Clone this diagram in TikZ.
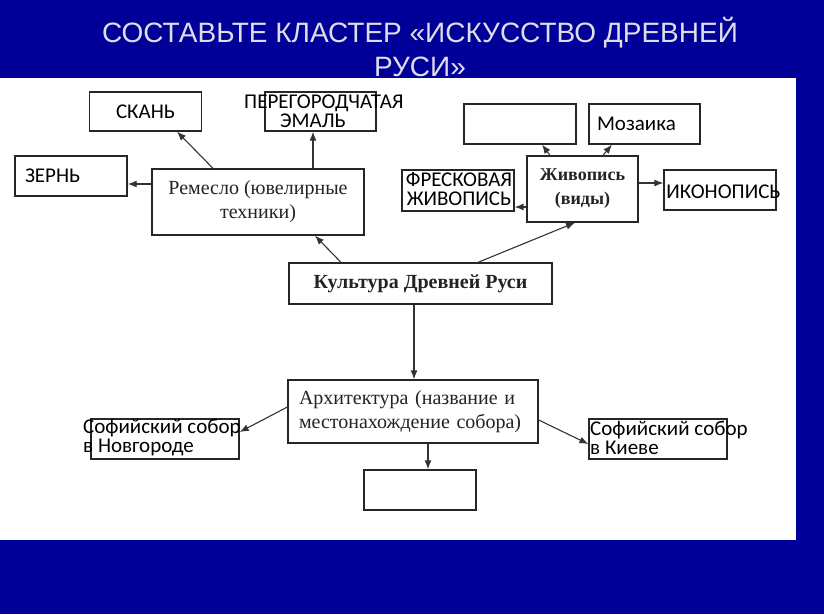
\documentclass[tikz,border=0pt]{standalone}
\usepackage{fontspec}
\setmainfont{Liberation Serif}
\newfontfamily\calibri{Carlito}
\newfontfamily\arialf{Liberation Sans}
\usepackage{tikz}
\usetikzlibrary{arrows.meta,positioning}
\definecolor{slideblue}{RGB}{0,0,153}
\definecolor{titlegray}{RGB}{222,222,235}
\definecolor{ink}{RGB}{35,35,35}

\begin{document}
\begin{tikzpicture}[x=1pt,y=-1pt,
  box/.style={draw=black!85,line width=1.3pt,fill=white,inner sep=0pt},
  plain/.style={font=\calibri\fontsize{21}{19}\selectfont,inner sep=0pt},
  serif/.style={text=ink,font=\fontsize{20}{24}\selectfont},
  heavy/.style={text=ink,font=\bfseries\fontsize{20}{24}\selectfont},
  to/.style={-{Latex[length=9pt,width=7pt]},line width=1.1pt,black!80}]

    \fill[slideblue] (0,0) rectangle (824,614);
    \fill[white] (0,78) rectangle (796,540);
    \useasboundingbox (0,0) rectangle (824,614);

    \node[text=titlegray,font=\arialf\fontsize{28}{34}\selectfont,align=center]
        (title) at (420,47) {СОСТАВЬТЕ КЛАСТЕР «ИСКУССТВО ДРЕВНЕЙ\\РУСИ»};

    % boxes
    \node[box,plain,minimum width=112pt,minimum height=39pt] (skan) at (145.5,111.5) {СКАНЬ};
    \node[box,minimum width=111pt,minimum height=39pt] (emal) at (320.5,111.5) {};
    \node[box,plain,align=left,text width=92pt,inner xsep=10pt,minimum height=40pt] (zern) at (71,176) {ЗЕРНЬ};
    \node[box,serif,align=center,minimum width=212pt,minimum height=66pt] (remeslo) at (258,202) {Ремесло (ювелирные\\техники)};
    \node[box,minimum width=112pt,minimum height=40pt] (empty1) at (520,124) {};
    \node[box,plain,align=left,text width=95pt,inner xsep=8pt,minimum height=40pt] (mozaika) at (644.5,124) {Мозаика};
    \node[box,minimum width=112pt,minimum height=41pt] (freska) at (458,190.5) {};
    \node[box,heavy,font=\bfseries\fontsize{18}{24}\selectfont,align=center,minimum width=111pt,minimum height=66pt] (zhivopis) at (582.5,189) {Живопись\\(виды)};
    \node[box,minimum width=112pt,minimum height=40pt] (ikono) at (720,190) {};
    \node[box,heavy,minimum width=263pt,minimum height=41pt] (kultura) at (420.5,283.5) {Культура Древней Руси};
    \node[box,serif,align=left,text width=228pt,inner xsep=11pt,minimum height=63pt] (arch) at (413,411.5) {Архитектура (название и\\местонахождение собора)};
    \node[box,minimum width=148pt,minimum height=40pt] (novg) at (165,439) {};
    \node[box,minimum width=138pt,minimum height=40pt] (kiev) at (658,439) {};
    \node[box,minimum width=112pt,minimum height=40pt] (empty2) at (420,490) {};

    % connectors
    \draw[to] ([xshift=-45pt]remeslo.north) -- ([xshift=31.5pt]skan.south);
    \draw[to] ([xshift=55pt]remeslo.north) -- ([xshift=-7.5pt]emal.south);
    \draw[to] ([yshift=18pt]remeslo.west) -- ([yshift=-8pt]zern.east);
    \draw[to] ([xshift=-79.5pt]kultura.north) -- ([xshift=57pt]remeslo.south);
    \draw[to] ([xshift=57.5pt]kultura.north) -- ([xshift=-7.5pt]zhivopis.south);
    \draw[to] ([xshift=-6.5pt]kultura.south) -- ([xshift=-6.5pt]kultura.south |- arch.north);
    \draw[to] ([yshift=4.5pt]arch.west) -- ([yshift=7pt]novg.east);
    \draw[to] ([yshift=-8.5pt]arch.east) -- ([yshift=-5pt]kiev.west);
    \draw[to] ([xshift=15pt]arch.south) -- ([xshift=15pt]arch.south |- empty2.north);
    \draw[to] ([xshift=-32.5pt]zhivopis.north) -- ([xshift=22pt]empty1.south);
    \draw[to] ([xshift=20.5pt]zhivopis.north) -- ([xshift=-32.5pt]mozaika.south);
    \draw[to] ([yshift=-18pt]zhivopis.west) -- ([yshift=-16.5pt]freska.east);
    \draw[to] ([yshift=6pt]zhivopis.east) -- ([yshift=7pt]ikono.west);

    % texts running over their boxes
    \node[plain,anchor=west,align=left] (emaltext) at (244,111) {ПЕРЕГОРОДЧАТАЯ\\\hspace*{36pt}ЭМАЛЬ};
    \node[plain,align=center] (freskatext) at (459,189) {ФРЕСКОВАЯ\\ЖИВОПИСЬ};
    \node[plain] (ikonotext) at (723.5,192) {ИКОНОПИСЬ};
    \node[plain,anchor=west,align=left] (novgtext) at (83,438) {Софийский собор\\в Новгороде};
    \node[plain,anchor=west,align=left] (kievtext) at (590,438) {Софийский собор\\в Киеве};
\end{tikzpicture}
\end{document}
